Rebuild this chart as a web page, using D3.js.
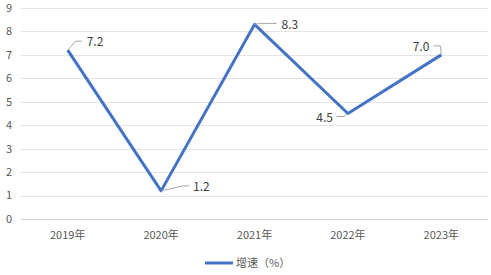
<!DOCTYPE html>
<html>
<head>
<meta charset="utf-8">
<script src="https://cdn.jsdelivr.net/npm/d3@7"></script>
<style>
  body { margin: 0; background: #fff; }
  text { font-family: "Noto Sans CJK SC", "Noto Sans", sans-serif; }
</style>
</head>
<body>
<svg id="chart"></svg>
<script>
// Data
var years = ["2019年", "2020年", "2021年", "2022年", "2023年"];
var growth = [7.2, 1.2, 8.3, 4.5, 7.0];
var yTicks = [0, 1, 2, 3, 4, 5, 6, 7, 8, 9];
var seriesName = "增速（%）";

// Where each data label sits relative to its point (leader line path + text anchor)
var labelPlace = [
    { leader: [[0, 0], [8, -9], [14, -9]], tx: 19, ty: -8, anchor: "start" },
    { leader: [[0, 0], [22, -5], [28, -5]], tx: 32, ty: -4, anchor: "start" },
    { leader: [[0, 0], [5, -1], [22, -1]], tx: 27, ty: 0, anchor: "start" },
    { leader: [[0, 0], [-4, 3], [-11, 3]], tx: -15, ty: 4, anchor: "end" },
    { leader: [[0, 0], [-1, -9], [-8, -9]], tx: -12, ty: -8, anchor: "end" }
];

const W = 491, H = 275;
var margin = { top: 8, right: 3, bottom: 56, left: 21 };

var svg = d3.select("#chart").attr("width", W).attr("height", H);

var xScale = d3.scaleBand()
    .domain(years)
    .range([margin.left, W - margin.right]);

var yScale = d3.scaleLinear()
    .domain([0, 9])
    .range([H - margin.bottom, margin.top]);

// Gridlines
svg.append("g")
    .selectAll("line")
    .data(yTicks)
    .join("line")
    .attr("x1", margin.left)
    .attr("x2", W - margin.right)
    .attr("y1", d => Math.round(yScale(d)) + 0.5)
    .attr("y2", d => Math.round(yScale(d)) + 0.5)
    .attr("stroke", d => d == 0 ? "#d0d0d0" : "#e4e4e4")
    .attr("stroke-width", 1);

// Y axis labels
svg.append("g")
    .selectAll("text")
    .data(yTicks)
    .join("text")
    .attr("x", 12)
    .attr("y", d => yScale(d))
    .attr("dy", "0.35em")
    .attr("text-anchor", "end")
    .style("font-size", "11px")
    .style("fill", "#595959")
    .text(d => d);

// X axis labels
svg.append("g")
    .selectAll("text")
    .data(years)
    .join("text")
    .attr("x", d => xScale(d) + xScale.bandwidth() / 2)
    .attr("y", 235)
    .attr("dy", "0.35em")
    .attr("text-anchor", "middle")
    .style("font-size", "11px")
    .style("fill", "#595959")
    .text(d => d);

// The line
var valueline = d3.line()
    .x((d, i) => xScale(years[i]) + xScale.bandwidth() / 2)
    .y(d => yScale(d));

svg.append("path")
    .datum(growth)
    .attr("d", valueline)
    .attr("fill", "none")
    .attr("stroke", "#4472C4")
    .attr("stroke-width", 3)
    .attr("stroke-linejoin", "round");

// Data labels with leader lines
var labels = svg.append("g")
    .selectAll("g")
    .data(growth)
    .join("g")
    .attr("transform", (d, i) => `translate(${xScale(years[i]) + xScale.bandwidth() / 2}, ${yScale(d)})`);

labels.append("path")
    .attr("d", (d, i) => d3.line()(labelPlace[i].leader))
    .attr("fill", "none")
    .attr("stroke", "#a6a6a6")
    .attr("stroke-width", 1);

labels.append("text")
    .attr("x", (d, i) => labelPlace[i].tx)
    .attr("y", (d, i) => labelPlace[i].ty)
    .attr("dy", "0.35em")
    .attr("text-anchor", (d, i) => labelPlace[i].anchor)
    .style("font-size", "12px")
    .style("fill", "#404040")
    .text(d => d.toFixed(1));

// Legend
var legend = svg.append("g").attr("transform", "translate(205, 263)");
legend.append("line")
    .attr("x1", 0).attr("x2", 28)
    .attr("y1", 0).attr("y2", 0)
    .attr("stroke", "#4472C4")
    .attr("stroke-width", 3);
legend.append("text")
    .attr("x", 31)
    .attr("y", 0)
    .attr("dy", "0.35em")
    .style("font-size", "11px")
    .style("fill", "#595959")
    .text(seriesName);
</script>
</body>
</html>
